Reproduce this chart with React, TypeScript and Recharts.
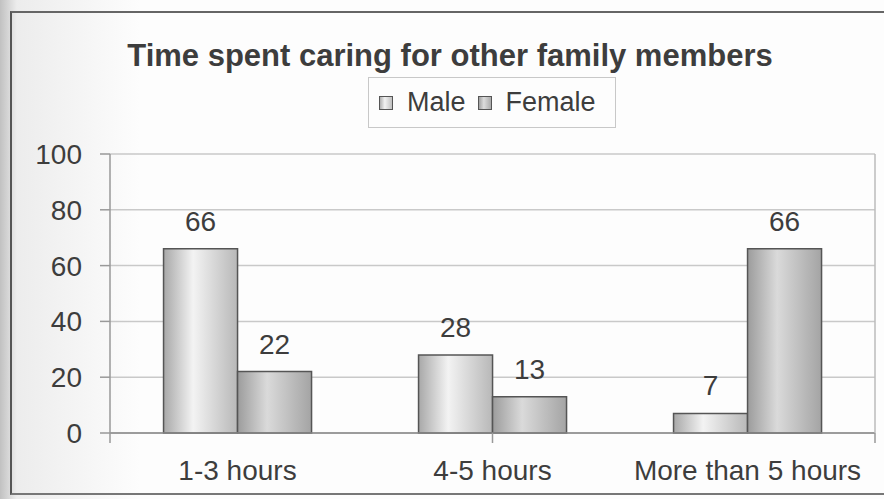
import { BarChart, Bar, XAxis, YAxis, CartesianGrid, LabelList } from "recharts";

const categories = ["1-3 hours", "4-5 hours", "More than 5 hours"];
const male = [66, 28, 7];
const female = [22, 13, 66];
const yTicks = [0, 20, 40, 60, 80, 100];
const edgeTicks = [0, 1, 2, 3];

const data = categories.map((name, i) => ({ name, male: male[i], female: female[i] }));

const font = '"Liberation Sans", Arial, sans-serif';
const ink = "#3d3d3d";
const catAxisHeight = 60;

function Swatch({ grad }: { grad: string }) {
  return (
    <span
      style={{
        display: "inline-block",
        width: 12,
        height: 12,
        border: "1.5px solid #555",
        background: grad,
      }}
    />
  );
}

// the helper axis sits under the category axis, so lift its marks back up to the baseline
function EdgeTick(props: any) {
  const { x, y } = props;
  const top = y - catAxisHeight;
  return <line x1={x} x2={x} y1={top} y2={top + 10} stroke="#999" strokeWidth={1.5} />;
}

export default function App() {
  return (
    <div
      style={{
        position: "fixed",
        left: 0,
        top: 0,
        width: 884,
        height: 499,
        overflow: "hidden",
        background: "#fdfdfd",
        fontFamily: font,
      }}
    >
      {/* scan shading on the left */}
      <div
        style={{
          position: "absolute",
          left: 0,
          top: 0,
          width: 140,
          height: 499,
          background: "linear-gradient(to right, rgba(120,120,120,0.45), rgba(160,160,160,0.18) 12%, rgba(255,255,255,0) 100%)",
        }}
      />
      <div
        style={{
          position: "absolute",
          left: 10,
          top: 11,
          width: 900,
          height: 480,
          borderTop: "2px solid #666",
          borderLeft: "2px solid #555",
          borderBottom: "2px solid #777",
        }}
      />
      <div
        style={{
          position: "absolute",
          left: 0,
          top: 40,
          width: 900,
          textAlign: "center",
          fontSize: 31,
          fontWeight: "bold",
          lineHeight: 1,
          color: ink,
        }}
      >
        Time spent caring for other family members
      </div>
      <div
        style={{
          position: "absolute",
          left: 368,
          top: 77,
          width: 248,
          height: 51,
          boxSizing: "border-box",
          border: "1px solid #c8c8c8",
          display: "flex",
          alignItems: "center",
          paddingLeft: 10,
          fontSize: 27,
          color: ink,
        }}
      >
        <Swatch grad="linear-gradient(to right, #b0b0b0, #f2f2f2 40%, #c0c0c0)" />
        <span style={{ marginLeft: 14 }}>Male</span>
        <span style={{ marginLeft: 12, display: "inline-flex" }}>
          <Swatch grad="linear-gradient(to right, #a0a0a0, #dcdcdc 40%, #aaaaaa)" />
        </span>
        <span style={{ marginLeft: 14 }}>Female</span>
      </div>
      <div style={{ position: "absolute", left: 0, top: 0 }}>
        <BarChart
          width={884}
          height={499}
          data={data}
          margin={{ top: 154, right: 0, bottom: 5, left: 0 }}
          barCategoryGap="21%"
          barGap={0}
        >
          <defs>
            <linearGradient id="gMale" x1="0" y1="0" x2="1" y2="0">
              <stop offset="0%" stopColor="#a8a8a8" />
              <stop offset="40%" stopColor="#f3f3f3" />
              <stop offset="100%" stopColor="#b8b8b8" />
            </linearGradient>
            <linearGradient id="gFemale" x1="0" y1="0" x2="1" y2="0">
              <stop offset="0%" stopColor="#9c9c9c" />
              <stop offset="40%" stopColor="#dadada" />
              <stop offset="100%" stopColor="#a4a4a4" />
            </linearGradient>
          </defs>
          <CartesianGrid vertical={false} stroke="#c9c9c9" strokeWidth={1.5} />
          <XAxis
            dataKey="name"
            height={catAxisHeight}
            tickLine={false}
            tickMargin={21}
            axisLine={{ stroke: "#888", strokeWidth: 1.5 }}
            tick={{ fill: ink, fontSize: 28, fontFamily: font }}
          />
          <XAxis
            xAxisId="edges"
            type="number"
            domain={[0, 3]}
            ticks={edgeTicks}
            allowDataOverflow
            height={1}
            axisLine={false}
            tickLine={false}
            tickSize={0}
            tickMargin={0}
            tick={<EdgeTick />}
            interval={0}
          />
          <YAxis
            domain={[0, 100]}
            ticks={yTicks}
            width={110}
            tickSize={10}
            tickMargin={18}
            axisLine={{ stroke: "#999", strokeWidth: 1.5 }}
            tickLine={{ stroke: "#999", strokeWidth: 1.5 }}
            tick={{ fill: ink, fontSize: 28, fontFamily: font }}
          />
          <YAxis
            yAxisId="r"
            orientation="right"
            domain={[0, 100]}
            width={9}
            tick={false}
            tickLine={false}
            axisLine={{ stroke: "#bbb", strokeWidth: 1.5 }}
          />
          <Bar dataKey="male" fill="url(#gMale)" stroke="#555" strokeWidth={1.5} isAnimationActive={false}>
            <LabelList dataKey="male" position="top" offset={18} fill={ink} fontSize={28} fontFamily={font} />
          </Bar>
          <Bar dataKey="female" fill="url(#gFemale)" stroke="#555" strokeWidth={1.5} isAnimationActive={false}>
            <LabelList dataKey="female" position="top" offset={18} fill={ink} fontSize={28} fontFamily={font} />
          </Bar>
        </BarChart>
      </div>
    </div>
  );
}
